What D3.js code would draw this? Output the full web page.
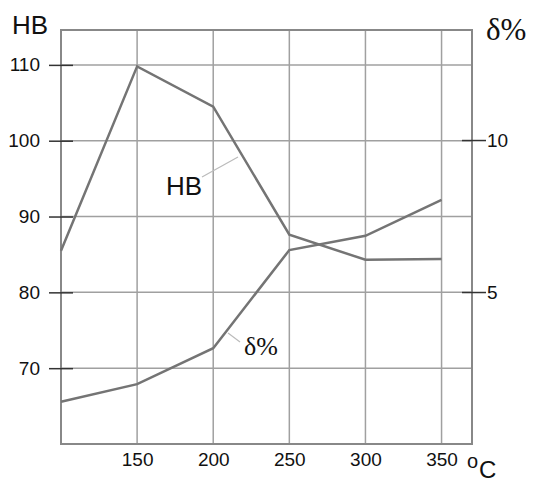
<!DOCTYPE html>
<html>
<head>
<meta charset="utf-8">
<script src="https://cdn.jsdelivr.net/npm/d3@7"></script>
<style>
  body { margin: 0; background: #fff; }
  svg { display: block; font-family: "Liberation Sans", Arial, sans-serif; }
</style>
</head>
<body>
<svg width="533" height="484"></svg>
<script>
// temperature (°C)
const temps = [100, 150, 200, 250, 300, 350]
// hardness HB
const hb = [85.5, 109.8, 104.5, 87.6, 84.3, 84.4]
// elongation δ%
const delta = [1.39, 1.97, 3.15, 6.38, 6.85, 8.03]

const xTicks = [150, 200, 250, 300, 350]
const hbTicks = [70, 80, 90, 100, 110]
const deltaTicks = [5, 10]

const svg = d3.select("svg")

const plotL = 61, plotR = 472, plotT = 30, plotB = 444

const x = d3.scaleLinear().domain([100, 370]).range([plotL, plotR])
const yHB = d3.scaleLinear().domain([60, 114.6]).range([plotB, plotT])
const yD = d3.scaleLinear().domain([0, 13.62]).range([plotB, plotT])

// grid
svg.append("g")
  .selectAll("line")
  .data(xTicks)
  .join("line")
    .attr("x1", d => x(d)).attr("x2", d => x(d))
    .attr("y1", plotT).attr("y2", plotB)
    .attr("stroke", "#a0a0a0").attr("stroke-width", 1.5)

svg.append("g")
  .selectAll("line")
  .data(hbTicks)
  .join("line")
    .attr("x1", plotL).attr("x2", plotR)
    .attr("y1", d => yHB(d)).attr("y2", d => yHB(d))
    .attr("stroke", "#a0a0a0").attr("stroke-width", 1.5)

// frame
svg.append("rect")
  .attr("x", plotL).attr("y", plotT)
  .attr("width", plotR - plotL).attr("height", plotB - plotT)
  .attr("fill", "none")
  .attr("stroke", "#888").attr("stroke-width", 2)

// axes
const axisStyle = g => {
  g.select(".domain").remove()
  g.selectAll(".tick line").attr("stroke", "#333").attr("stroke-width", 1.5)
  g.selectAll(".tick text").attr("fill", "#111")
    .style("font-size", "19px").style("font-family", "'Liberation Sans', Arial, sans-serif")
}

svg.append("g")
  .attr("transform", `translate(${plotL + 12},0)`)
  .call(d3.axisLeft(yHB).tickValues(hbTicks).tickSize(24).tickPadding(9))
  .call(axisStyle)

svg.append("g")
  .attr("transform", `translate(${plotR - 10},0)`)
  .call(d3.axisRight(yD).tickValues(deltaTicks).tickSize(24).tickPadding(1))
  .call(axisStyle)

svg.append("g")
  .attr("transform", `translate(0,${plotB})`)
  .call(d3.axisBottom(x).tickValues(xTicks).tickSize(0).tickPadding(8.5))
  .call(axisStyle)

// curves
const hbLine = d3.line().x((d, i) => x(temps[i])).y(d => yHB(d))
const dLine = d3.line().x((d, i) => x(temps[i])).y(d => yD(d))

svg.append("path")
  .attr("d", hbLine(hb))
  .attr("fill", "none").attr("stroke", "#747474").attr("stroke-width", 2.5)

svg.append("path")
  .attr("d", dLine(delta))
  .attr("fill", "none").attr("stroke", "#747474").attr("stroke-width", 2.5)

// leader lines
svg.append("line")
  .attr("x1", 202).attr("y1", 177).attr("x2", 238).attr("y2", 157)
  .attr("stroke", "#bbb").attr("stroke-width", 1.2)
svg.append("line")
  .attr("x1", 228).attr("y1", 333).attr("x2", 240).attr("y2", 342)
  .attr("stroke", "#bbb").attr("stroke-width", 1.2)

// labels
svg.append("text").attr("x", 12).attr("y", 34)
  .style("font-size", "26px").attr("fill", "#111").text("HB")
svg.append("text").attr("x", 166).attr("y", 195)
  .style("font-size", "26px").attr("fill", "#111").text("HB")

svg.append("text").attr("x", 486).attr("y", 40)
  .style("font-family", "'Liberation Serif', 'Times New Roman', serif")
  .style("font-size", "31px").attr("fill", "#111").text("δ%")
svg.append("text").attr("x", 244).attr("y", 355)
  .style("font-family", "'Liberation Serif', 'Times New Roman', serif")
  .style("font-size", "26px").attr("fill", "#111").text("δ%")

svg.append("text").attr("x", 467).attr("y", 468)
  .style("font-size", "20px").attr("fill", "#111").text("o")
svg.append("text").attr("x", 479).attr("y", 478)
  .style("font-size", "24px").attr("fill", "#111").text("C")
</script>
</body>
</html>
